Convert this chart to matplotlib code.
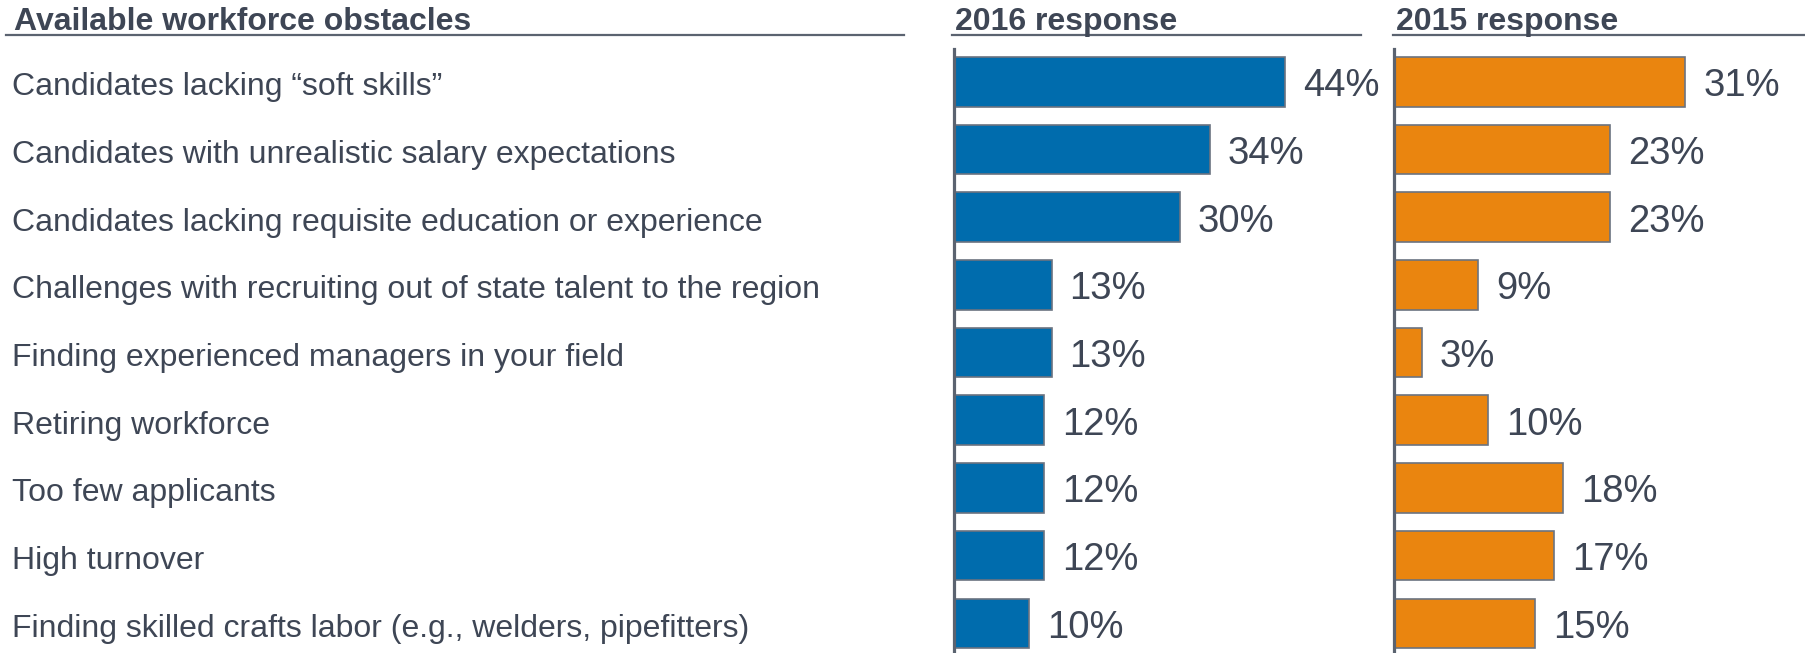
import matplotlib
matplotlib.use("Agg")
import matplotlib.pyplot as plt
from matplotlib.lines import Line2D
from matplotlib.transforms import blended_transform_factory, offset_copy

plt.rcParams['font.family'] = ['Liberation Sans', 'DejaVu Sans']

categories = [
    "Candidates lacking \u201csoft skills\u201d",
    "Candidates with unrealistic salary expectations",
    "Candidates lacking requisite education or experience",
    "Challenges with recruiting out of state talent to the region",
    "Finding experienced managers in your field",
    "Retiring workforce",
    "Too few applicants",
    "High turnover",
    "Finding skilled crafts labor (e.g., welders, pipefitters)",
]
values_2016 = [44, 34, 30, 13, 13, 12, 12, 12, 10]
values_2015 = [31, 23, 23, 9, 3, 10, 18, 17, 15]
header_left = "Available workforce obstacles"
header_2016 = "2016 response"
header_2015 = "2015 response"

W, H = 1806, 653
fig = plt.figure(figsize=(W / 100, H / 100), dpi=100)
fig.patch.set_facecolor("white")

TEXT = "#3e4655"
LINE = "#5b6370"
BLUE = "#006cad"
ORANGE = "#ea850f"
EDGE = "#6b7380"

def fx(px):
    return px / W

def fy(py):
    return 1 - py / H

ax_top, ax_bot = 49, 653
ylim = (8.44, -0.485)

ax1 = fig.add_axes([fx(953.7), fy(ax_bot), fx(376.5), (ax_bot - ax_top) / H])
ax2 = fig.add_axes([fx(1393.7), fy(ax_bot), fx(404.6), (ax_bot - ax_top) / H])

for ax, vals, color, xmax in [(ax1, values_2016, BLUE, 50), (ax2, values_2015, ORANGE, 43)]:
    ax.set_facecolor("none")
    y = list(range(len(vals)))
    ax.barh(y, vals, height=0.73, color=color, edgecolor=EDGE, linewidth=1.2, zorder=2)
    ax.set_xlim(0, xmax)
    ax.set_ylim(*ylim)
    for s in ["top", "right", "bottom"]:
        ax.spines[s].set_visible(False)
    ax.spines["left"].set_color(LINE)
    ax.spines["left"].set_linewidth(2.3)
    ax.spines["left"].set_zorder(3)
    ax.set_xticks([])
    ax.set_yticks([])
    for i, v in enumerate(vals):
        ax.annotate(f"{v}%", xy=(v, i), xytext=(18, -14.5), textcoords="offset pixels",
                    ha="left", va="baseline", fontsize=27.5, color=TEXT,
                    annotation_clip=False)

trans = offset_copy(blended_transform_factory(fig.transFigure, ax1.transData),
                    fig=fig, x=0, y=-13.5, units="dots")
for i, cat in enumerate(categories):
    ax1.text(fx(12), i, cat, transform=trans, ha="left", va="baseline",
             fontsize=23, color=TEXT, clip_on=False)

# headers
fig.text(fx(14), fy(30), header_left, ha="left", va="baseline",
         fontsize=23, fontweight="bold", color=TEXT)
fig.text(fx(955), fy(30), header_2016, ha="left", va="baseline",
         fontsize=23, fontweight="bold", color=TEXT)
fig.text(fx(1396), fy(30), header_2015, ha="left", va="baseline",
         fontsize=23, fontweight="bold", color=TEXT)

for x0, x1 in [(6, 904), (952, 1361), (1393, 1806)]:
    fig.add_artist(Line2D([fx(x0), fx(x1)], [fy(35), fy(35)],
                          transform=fig.transFigure, color=LINE, linewidth=1.6))

fig.savefig("out.png", dpi=100, facecolor="white")
